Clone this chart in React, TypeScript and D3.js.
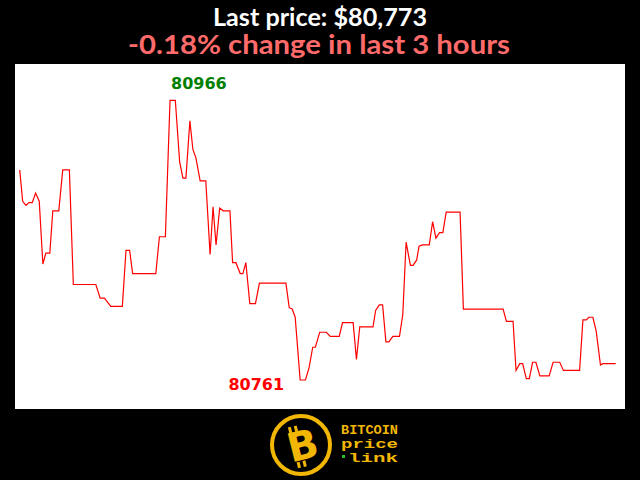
import React from "react";
import * as d3 from "d3";

const times = [
  0, 0.9, 1.9, 2.8, 3.8, 4.8, 5.9, 7.0, 7.9, 9.1, 10.0, 11.8, 13.0, 15.0, 16.2, 23.0,
  24.3, 25.6, 27.5, 31.0, 32.1, 33.2, 34.1, 41.1, 42.2, 44.0, 45.4, 47.0, 48.3, 49.3,
  50.2, 51.4, 52.3, 53.2, 54.5, 56.2, 57.5, 58.4, 59.3, 60.4, 61.5, 63.5, 64.3, 65.3,
  66.6, 67.4, 68.3, 69.5, 71.2, 72.4, 80.4, 81.4, 82.3, 83.2, 84.7, 86.3, 87.4, 88.5,
  89.3, 90.6, 92.6, 93.8, 96.5, 97.5, 100.7, 101.7, 102.7, 106.7, 107.5, 108.6, 109.6,
  110.6, 111.5, 112.7, 114.7, 115.7, 116.7, 118.0, 118.8, 119.9, 120.6, 121.6, 122.7,
  123.7, 124.7, 125.7, 126.8, 127.8, 128.8, 133.0, 134.0, 146.0, 147.0, 149.0, 149.9,
  151.0, 151.9, 153.0, 153.9, 154.9, 155.9, 157.1, 159.9, 161.1, 163.1, 164.2, 169.1,
  170.1, 171.1, 171.9, 173.1, 174.1, 175.4, 176.1, 180.0,
];

const prices = [
  80915, 80892, 80889, 80891, 80891, 80898, 80892, 80846, 80854, 80854, 80885, 80885,
  80915, 80915, 80831, 80831, 80821, 80821, 80815, 80815, 80856, 80856, 80839, 80839,
  80866, 80866, 80966, 80966, 80921, 80909, 80909, 80951, 80930, 80924, 80907, 80907,
  80853, 80888, 80860, 80887, 80885, 80885, 80847, 80847, 80839, 80839, 80847, 80817,
  80817, 80832, 80832, 80814, 80813, 80807, 80761, 80761, 80770, 80785, 80785, 80796,
  80796, 80793, 80793, 80803, 80803, 80776, 80800, 80800, 80812, 80816, 80816, 80789,
  80789, 80793, 80793, 80809, 80862, 80845, 80845, 80849, 80859, 80860, 80860, 80860,
  80877, 80865, 80869, 80869, 80884, 80884, 80813, 80813, 80804, 80804, 80768, 80773,
  80773, 80762, 80762, 80774, 80774, 80764, 80764, 80774, 80774, 80768, 80768, 80805,
  80805, 80807, 80807, 80797, 80772, 80773, 80773,
];

const titleLine = "Last price: $80,773";
const changeLine = "-0.18% change in last 3 hours";
const logoWords = ["BITCOIN", "price", "link"];

export default function App() {
  const W = 640;
  const H = 480;
  const x = d3.scaleLinear().domain([0, 180]).range([19.7, 615.7]);
  const y = d3.scaleLinear().domain([80761, 80966]).range([380, 100.3]);
  const pts = times.map((t, i) => [t, prices[i]] as [number, number]);
  const line = d3
    .line<[number, number]>()
    .x((d) => x(d[0]))
    .y((d) => y(d[1]));

  const maxV = d3.max(prices) as number;
  const minV = d3.min(prices) as number;
  const iMax = prices.indexOf(maxV);
  const iMin = prices.indexOf(minV);

  return (
    <svg
      width={W}
      height={H}
      style={{ position: "fixed", left: 0, top: 0, display: "block" }}
    >
      <rect x={0} y={0} width={W} height={H} fill="#000" />
      <text
        x={320}
        y={26}
        textAnchor="middle"
        fill="#fff"
        fontFamily="Lato, 'Noto Sans', sans-serif"
        fontWeight={700}
        fontSize={24}
        textLength={214}
        lengthAdjust="spacingAndGlyphs"
      >
        {titleLine}
      </text>
      <text
        x={319}
        y={54}
        textAnchor="middle"
        fill="#ff6b6b"
        fontFamily="Lato, 'Noto Sans', sans-serif"
        fontWeight={700}
        fontSize={27}
        textLength={382}
        lengthAdjust="spacingAndGlyphs"
      >
        {changeLine}
      </text>
      <rect x={15} y={64} width={610} height={345} fill="#fff" />
      <path d={line(pts) || ""} fill="none" stroke="#ff0000" strokeWidth={1.2} />
      <text
        x={x(times[iMax]) + 1}
        y={y(maxV) - 11}
        fill="#008000"
        fontFamily="'DejaVu Sans', sans-serif"
        fontWeight="bold"
        fontSize={16}
      >
        {String(maxV)}
      </text>
      <text
        x={x(times[iMin]) - 16}
        y={y(minV) + 10}
        textAnchor="end"
        fill="#ff0000"
        fontFamily="'DejaVu Sans', sans-serif"
        fontWeight="bold"
        fontSize={16}
      >
        {String(minV)}
      </text>
      {/* logo */}
      <g>
        <circle cx={301} cy={445} r={29} fill="#000" stroke="#f2b705" strokeWidth={4} />
        <g transform="translate(301,447) rotate(-14)">
          <text
            x={2}
            y={13}
            textAnchor="middle"
            fill="#f2b705"
            fontFamily="'DejaVu Sans', sans-serif"
            fontWeight="bold"
            fontSize={40}
          >
            B
          </text>
          <rect x={-8} y={-22} width={3} height={6} fill="#f2b705" />
          <rect x={-2} y={-22} width={3} height={6} fill="#f2b705" />
          <rect x={-8} y={14} width={3} height={6} fill="#f2b705" />
          <rect x={-2} y={14} width={3} height={6} fill="#f2b705" />
        </g>
        {logoWords.map((w, i) => (
          <text
            key={w}
            x={i === 2 ? 348 : 341}
            y={434 + i * 14}
            fill="#f2b705"
            fontFamily="'Liberation Mono', 'DejaVu Sans Mono', monospace"
            fontWeight="bold"
            fontSize={12}
            textLength={i === 2 ? 50 : 57}
            lengthAdjust="spacingAndGlyphs"
          >
            {w}
          </text>
        ))}
        <rect x={342} y={455} width={3} height={3} fill="#22c020" />
      </g>
    </svg>
  );
}
